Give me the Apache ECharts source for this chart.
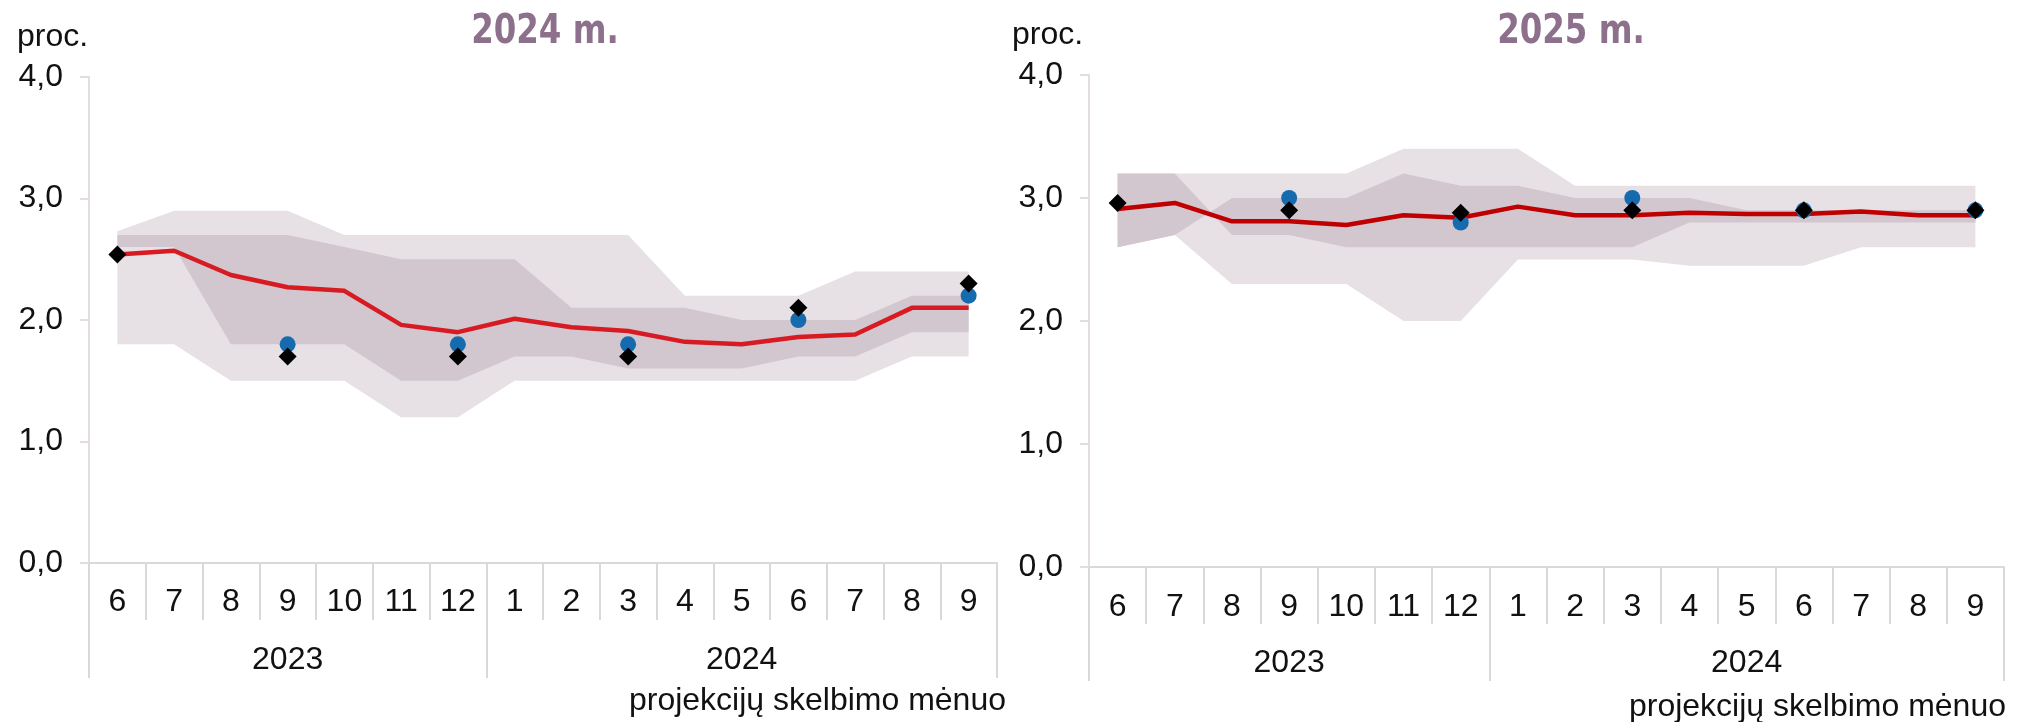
<!DOCTYPE html>
<html>
<head>
<meta charset="utf-8">
<script src="https://cdn.jsdelivr.net/npm/echarts@6/dist/echarts.min.js"></script>
<style>
html,body{margin:0;padding:0;background:#fff;}
#c{width:2017px;height:722px;}
</style>
</head>
<body>
<div id="c"></div>
<script>
// ---------- categories / labels ----------
const months = ['6','7','8','9','10','11','12','1','2','3','4','5','6','7','8','9'];
const years = ['2023','2024'];
const yearSpans = [7, 9];
const yTickLabels = ['0,0','1,0','2,0','3,0','4,0'];
const titles = ['2024 m.','2025 m.'];
const unitLabel = 'proc.';
const xAxisTitle = 'projekcijų skelbimo mėnuo';

// ---------- panel 1: 2024 m. ----------
const line24     = [2.54, 2.57, 2.37, 2.27, 2.24, 1.96, 1.90, 2.01, 1.94, 1.91, 1.82, 1.80, 1.86, 1.88, 2.10, 2.10];
const outerHi24  = [2.73, 2.9, 2.9, 2.9, 2.7, 2.7, 2.7, 2.7, 2.7, 2.7, 2.2, 2.2, 2.2, 2.4, 2.4, 2.4];
const outerLo24  = [1.8, 1.8, 1.5, 1.5, 1.5, 1.2, 1.2, 1.5, 1.5, 1.5, 1.5, 1.5, 1.5, 1.5, 1.7, 1.7];
const innerA24   = [2.7, 2.7, 2.7, 2.7, 2.6, 2.5, 2.5, 2.5, 2.1, 2.1, 2.1, 2.0, 2.0, 2.0, 2.2, 2.2];
const innerB24   = [2.6, 2.6, 1.8, 1.8, 1.8, 1.5, 1.5, 1.7, 1.7, 1.6, 1.6, 1.6, 1.7, 1.7, 1.9, 1.9];
const dots24     = [null, null, null, 1.8, null, null, 1.8, null, null, 1.8, null, null, 2.0, null, null, 2.2];
const diamonds24 = [2.54, null, null, 1.7, null, null, 1.7, null, null, 1.7, null, null, 2.1, null, null, 2.3];

// ---------- panel 2: 2025 m. ----------
const line25     = [2.91, 2.96, 2.81, 2.81, 2.78, 2.86, 2.84, 2.93, 2.86, 2.86, 2.88, 2.87, 2.87, 2.89, 2.86, 2.86];
const outerHi25  = [3.2, 3.2, 3.2, 3.2, 3.2, 3.4, 3.4, 3.4, 3.1, 3.1, 3.1, 3.1, 3.1, 3.1, 3.1, 3.1];
const outerLo25  = [2.6, 2.7, 2.3, 2.3, 2.3, 2.0, 2.0, 2.5, 2.5, 2.5, 2.45, 2.45, 2.45, 2.6, 2.6, 2.6];
const innerA25   = [3.2, 3.2, 2.7, 2.7, 2.6, 2.6, 2.6, 2.6, 2.6, 2.6, 2.8, 2.8, 2.8, 2.8, 2.8, 2.8];
const innerB25   = [2.6, 2.7, 3.0, 3.0, 3.0, 3.2, 3.1, 3.1, 3.0, 3.0, 3.0, 2.9, 2.9, 2.9, 2.9, 2.9];
const dots25     = [null, null, null, 3.0, null, null, 2.8, null, null, 3.0, null, null, 2.9, null, null, 2.9];
const diamonds25 = [2.96, null, null, 2.9, null, null, 2.88, null, null, 2.9, null, null, 2.9, null, null, 2.9];

// ---------- styling ----------
const FONT = 'Liberation Sans, Arial, sans-serif';
const TXT = '#111';
const LIGHT = '#e7e1e6';
const DARK = '#d2c6cf';
const BLUE = '#166bae';
const AXIS_GRAY = '#d9d9d9';
const YAXIS_COL = '#e3dde1';

const yearAxisData = [];
const yearStarts = [];
years.forEach((y, k) => {
  const n = yearSpans[k];
  yearStarts.push(yearAxisData.length);
  for (let i = 0; i < n; i++) yearAxisData.push(i === (n - 1) / 2 ? y : '');
});

const panels = [
  {grid:{left:89, top:77, width:908, height:486}, monthMargin:23, yearMargin:81, tick:57, ytick:115,
   line:line24, lineColor:'#d81b23', oHi:outerHi24, oLo:outerLo24, iA:innerA24, iB:innerB24, dots:dots24, dia:diamonds24,
   title:{x:545, y:33}, unit:{x:17, y:37}, xt:{x:1006, y:701}},
  {grid:{left:1089, top:75, width:915, height:492}, monthMargin:24, yearMargin:80, tick:57, ytick:114,
   line:line25, lineColor:'#c00000', oHi:outerHi25, oLo:outerLo25, iA:innerA25, iB:innerB25, dots:dots25, dia:diamonds25,
   title:{x:1571, y:33}, unit:{x:1012, y:35}, xt:{x:2006, y:707}}
];

const grids = [], xAxes = [], yAxes = [], series = [], graphics = [];

function toData(arr){ return arr.map(v => v == null ? '-' : v); }

panels.forEach((p, k) => {
  grids.push(Object.assign({outerBoundsMode:'none', containLabel:false}, p.grid));
  const mx = xAxes.length;
  xAxes.push({
    type:'category', gridIndex:k, data:months, boundaryGap:true, position:'bottom',
    axisLine:{show:true, onZero:false, lineStyle:{color:AXIS_GRAY, width:2}},
    axisTick:{show:true, interval:0, length:p.tick, lineStyle:{color:AXIS_GRAY, width:2}},
    axisLabel:{interval:0, margin:p.monthMargin, fontSize:32, fontFamily:FONT, color:TXT},
    splitLine:{show:false}
  });
  xAxes.push({
    type:'category', gridIndex:k, data:yearAxisData, boundaryGap:true, position:'bottom',
    axisLine:{show:false, onZero:false},
    axisTick:{show:true, interval:(i) => yearStarts.indexOf(i) >= 0, length:p.ytick, lineStyle:{color:AXIS_GRAY, width:2}},
    axisLabel:{interval:0, margin:p.yearMargin, fontSize:32, fontFamily:FONT, color:TXT},
    splitLine:{show:false}
  });
  yAxes.push({
    type:'value', gridIndex:k, min:0, max:4, interval:1,
    splitLine:{show:false},
    axisLine:{show:true, lineStyle:{color:YAXIS_COL, width:2}},
    axisTick:{show:true, length:9, lineStyle:{color:YAXIS_COL, width:2}},
    axisLabel:{margin:26, fontSize:32, fontFamily:FONT, color:TXT, formatter:(v) => yTickLabels[Math.round(v)]}
  });

  function band(a, b, color, name){
    series.push({type:'line', xAxisIndex:mx, yAxisIndex:k, data:a, stack:name, stackStrategy:'all',
      symbol:'none', lineStyle:{width:0, opacity:0}, silent:true, z:1, animation:false});
    series.push({type:'line', xAxisIndex:mx, yAxisIndex:k, data:b.map((v, i) => +(v - a[i]).toFixed(4)), stack:name, stackStrategy:'all',
      symbol:'none', lineStyle:{width:0, opacity:0}, areaStyle:{color:color, opacity:1}, silent:true, z:1, animation:false});
  }
  band(p.oLo, p.oHi, LIGHT, 'outer' + k);
  band(p.iA, p.iB, DARK, 'inner' + k);

  series.push({type:'line', xAxisIndex:mx, yAxisIndex:k, data:p.line, symbol:'none',
    lineStyle:{color:p.lineColor, width:4.5}, z:3, silent:true, animation:false});
  series.push({type:'scatter', xAxisIndex:mx, yAxisIndex:k, data:toData(p.dots), symbol:'circle', symbolSize:16,
    itemStyle:{color:BLUE, opacity:1}, z:4, silent:true, animation:false});
  series.push({type:'scatter', xAxisIndex:mx, yAxisIndex:k, data:toData(p.dia), symbol:'diamond', symbolSize:18,
    itemStyle:{color:'#000', opacity:1}, z:5, silent:true, animation:false});

  graphics.push({type:'text', x:p.title.x, y:p.title.y, scaleX:0.9, silent:true,
    style:{text:titles[k], font:'bold 40px "DejaVu Sans Condensed", "DejaVu Sans", sans-serif', fill:'#8c708c',
      align:'center', verticalAlign:'middle', textAlign:'center', textVerticalAlign:'middle'}});
  graphics.push({type:'text', x:p.unit.x, y:p.unit.y, silent:true,
    style:{text:unitLabel, font:'32px ' + FONT, fill:TXT,
      align:'left', verticalAlign:'middle', textAlign:'left', textVerticalAlign:'middle'}});
  graphics.push({type:'text', x:p.xt.x, y:p.xt.y, silent:true,
    style:{text:xAxisTitle, font:'32px ' + FONT, fill:TXT,
      align:'right', verticalAlign:'middle', textAlign:'right', textVerticalAlign:'middle'}});
});

const chart = echarts.init(document.getElementById('c'), null, {renderer:'canvas'});
chart.setOption({
  animation:false,
  backgroundColor:'#fff',
  grid:grids, xAxis:xAxes, yAxis:yAxes, series:series,
  graphic:graphics
});
</script>
</body>
</html>
